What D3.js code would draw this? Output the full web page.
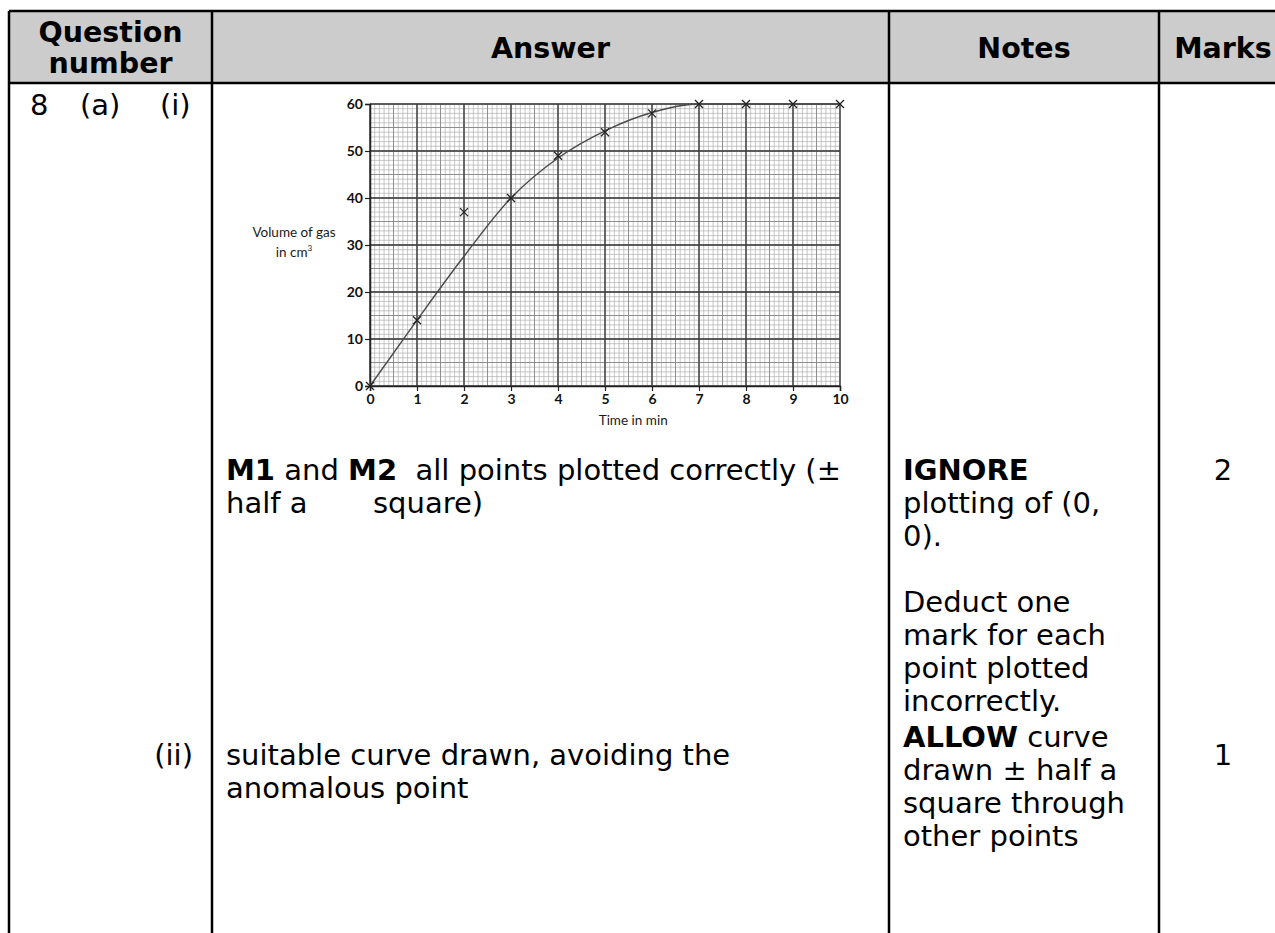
<!DOCTYPE html>
<html>
<head>
<meta charset="utf-8">
<script src="https://cdn.jsdelivr.net/npm/d3@7"></script>
<style>
  body { margin: 0; background: #fff; }
  text { white-space: pre; }
</style>
</head>
<body>
<div id="chart-container"></div>
<script>
// plotted points (x = time in min, y = volume of gas in cm3)
const times = [0, 1, 2, 3, 4, 5, 6, 7, 8, 9, 10];
const volumes = [0, 14, 37, 40, 49, 54, 58, 60, 60, 60, 60];
// line of best fit as drawn (misses the anomalous point at 2 min)
const curveTimes = [0, 1, 2, 3, 4, 5, 6, 7, 8, 9, 10];
const curveVolumes = [0, 14, 27.6, 40, 48.5, 54.3, 58.2, 60, 60, 60, 60];
const xTicks = [0, 1, 2, 3, 4, 5, 6, 7, 8, 9, 10];
const yTicks = [0, 10, 20, 30, 40, 50, 60];

// mark scheme table text
const headers = ['Question|number', 'Answer', 'Notes', 'Marks'];
const answerLines = ['**M1** and **M2**  all points plotted correctly (±'];
const notesI = ['**IGNORE**', 'plotting of (0,', '0).', '', 'Deduct one', 'mark for each', 'point plotted', 'incorrectly.'];
const answerII = ['suitable curve drawn, avoiding the', 'anomalous point'];
const notesII = ['**ALLOW** curve', 'drawn ± half a', 'square through', 'other points'];
const marks = ['2', '1'];

var W = 1275, H = 933;
var font = '"DejaVu Sans", Verdana, sans-serif';
var fs = 29, lh = 33;
var cols = [9, 212, 889, 1159, 1287];
var headTop = 11, headBot = 83;

var svg = d3.select('#chart-container')
  .append('svg')
  .attr('width', W)
  .attr('height', H)
  .style('font-family', font);

svg.append('rect').attr('width', W).attr('height', H).attr('fill', '#fff');

// header background
svg.append('rect')
  .attr('x', cols[0]).attr('y', headTop)
  .attr('width', cols[4] - cols[0]).attr('height', headBot - headTop)
  .attr('fill', '#cccccc');

// header text
headers.forEach(function(h, i) {
  var cx = (cols[i] + cols[i + 1]) / 2;
  var parts = h.split('|');
  var t = svg.append('text')
    .attr('text-anchor', 'middle')
    .attr('font-weight', 'bold')
    .attr('font-size', 28.5)
    .attr('fill', '#000');
  if (parts.length == 2) {
    t.append('tspan').attr('x', cx).attr('y', 42).text(parts[0]);
    t.append('tspan').attr('x', cx).attr('y', 73).text(parts[1]);
  } else {
    t.attr('x', cx).attr('y', 58).text(h);
  }
});

// table rules
var rules = svg.append('g').attr('stroke', '#000').attr('stroke-width', 2.5);
rules.append('line').attr('x1', cols[0]).attr('x2', cols[4]).attr('y1', headTop).attr('y2', headTop);
rules.append('line').attr('x1', cols[0]).attr('x2', cols[4]).attr('y1', headBot).attr('y2', headBot);
cols.slice(0, 4).forEach(function(cx) {
  rules.append('line').attr('x1', cx).attr('x2', cx).attr('y1', headTop).attr('y2', H);
});

// write a line that may hold **bold** bits
function writeLine(x, y, str, anchor) {
  var t = svg.append('text')
    .attr('x', x).attr('y', y)
    .attr('font-size', fs)
    .attr('fill', '#000')
    .attr('text-anchor', anchor || 'start');
  str.split('**').forEach(function(p, i) {
    if (p === '') return;
    t.append('tspan').attr('font-weight', i % 2 ? 'bold' : 'normal').text(p);
  });
}

// question numbers
writeLine(30, 115, '8');
writeLine(80, 115, '(a)');
writeLine(160, 115, '(i)');
writeLine(193, 765, '(ii)', 'end');

// row (i)
var r1 = 480;
answerLines.forEach(function(s, i) { writeLine(226, r1 + i * lh, s); });
writeLine(226, r1 + lh, 'half a');
writeLine(373, r1 + lh, 'square)');
notesI.forEach(function(s, i) { writeLine(903, r1 + i * lh, s); });
writeLine(1223, r1, marks[0], 'middle');

// row (ii)
answerII.forEach(function(s, i) { writeLine(226, 765 + i * lh, s); });
notesII.forEach(function(s, i) { writeLine(903, 747 + i * lh, s); });
writeLine(1223, 765, marks[1], 'middle');

// ---- the graph ----
var plot = { left: 370, right: 840, top: 104, bottom: 386 };

var x = d3.scaleLinear().domain([0, 10]).range([plot.left, plot.right]);
var y = d3.scaleLinear().domain([0, 60]).range([plot.bottom, plot.top]);

var g = svg.append('g').style('font-family', 'Lato, "Open Sans", sans-serif');

// graph paper: 1 mm squares, 5 mm and 1 cm lines
var grid = g.append('g');
function gridLines(vals, vertical, colour, width) {
  grid.selectAll(null)
    .data(vals)
    .enter()
    .append('line')
    .attr('x1', d => vertical ? x(d) : plot.left)
    .attr('x2', d => vertical ? x(d) : plot.right)
    .attr('y1', d => vertical ? plot.top : y(d))
    .attr('y2', d => vertical ? plot.bottom : y(d))
    .attr('stroke', colour)
    .attr('stroke-width', width);
}
gridLines(x.ticks(100), true, '#b0b0b0', 0.7);
gridLines(y.ticks(60), false, '#b0b0b0', 0.7);
gridLines(x.ticks(20), true, '#888', 0.9);
gridLines(y.ticks(12), false, '#888', 0.9);
gridLines(xTicks, true, '#3c3c3c', 1.3);
gridLines(yTicks, false, '#3c3c3c', 1.3);

// axes
var yAxis = g.append('g')
  .attr('transform', 'translate(' + plot.left + ',0)')
  .call(d3.axisLeft(y).tickValues(yTicks).tickSize(5).tickPadding(2));
var xAxis = g.append('g')
  .attr('transform', 'translate(0,' + plot.bottom + ')')
  .call(d3.axisBottom(x).tickValues(xTicks).tickSize(5).tickPadding(3));
[yAxis, xAxis].forEach(function(a) {
  a.select('.domain').attr('stroke', '#222').attr('stroke-width', 1.5);
  a.selectAll('.tick line').attr('stroke', '#222').attr('stroke-width', 1.2);
  a.selectAll('.tick text').attr('font-size', 14).attr('fill', '#111')
    .attr('font-weight', 'bold')
    .style('font-family', 'Lato, sans-serif');
});

// axis titles
g.append('text')
  .attr('x', x(5.6)).attr('y', plot.bottom + 39)
  .attr('text-anchor', 'middle').attr('font-size', 13.5).attr('fill', '#1a1a1a')
  .text('Time in min');
var yl = g.append('text')
  .attr('text-anchor', 'middle').attr('font-size', 13.5).attr('fill', '#1a1a1a');
yl.append('tspan').attr('x', 294).attr('y', 237).text('Volume of gas');
yl.append('tspan').attr('x', 294).attr('y', 257).text('in cm');
yl.append('tspan').attr('dy', -6).attr('font-size', 8).text('3');

// best-fit curve
var curve = d3.line()
  .x(d => x(d[0]))
  .y(d => y(d[1]))
  .curve(d3.curveMonotoneX);
g.append('path')
  .datum(d3.zip(curveTimes, curveVolumes))
  .attr('d', curve)
  .attr('fill', 'none')
  .attr('stroke', '#4a4a4a')
  .attr('stroke-width', 1.4);

// plotted crosses
var s = 4;
g.selectAll('.pt')
  .data(d3.zip(times, volumes))
  .enter()
  .append('path')
  .attr('class', 'pt')
  .attr('d', d => 'M' + (x(d[0]) - s) + ',' + (y(d[1]) - s) + 'L' + (x(d[0]) + s) + ',' + (y(d[1]) + s) +
    'M' + (x(d[0]) - s) + ',' + (y(d[1]) + s) + 'L' + (x(d[0]) + s) + ',' + (y(d[1]) - s))
  .attr('stroke', '#222')
  .attr('stroke-width', 1.3)
  .attr('fill', 'none');
</script>
</body>
</html>
